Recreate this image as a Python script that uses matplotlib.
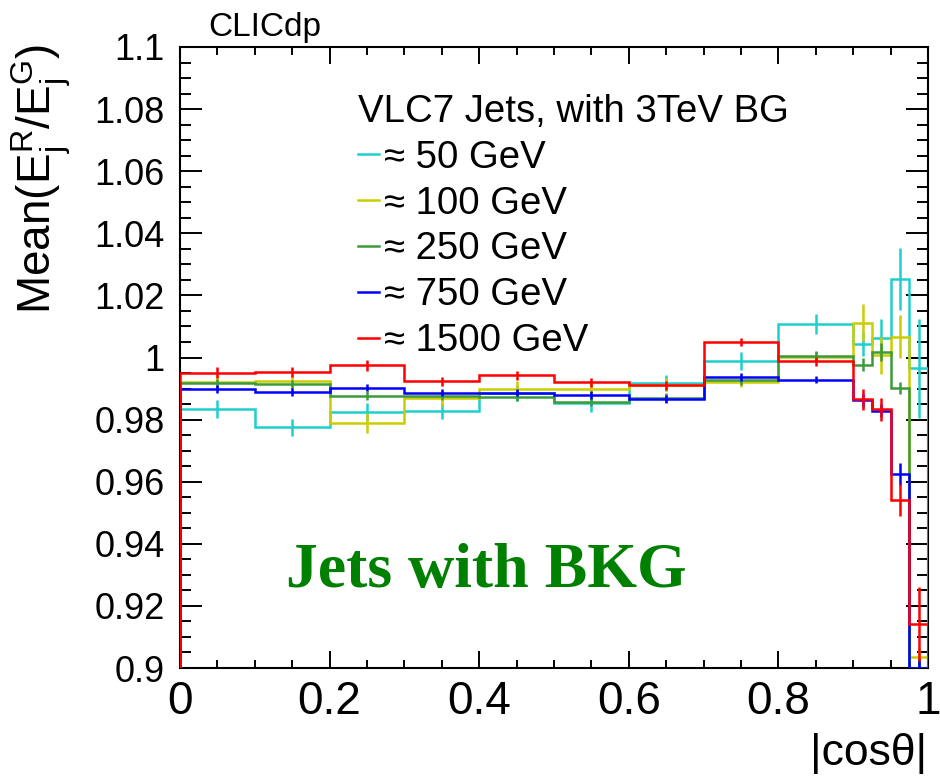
import numpy as np
import matplotlib
matplotlib.use("Agg")
import matplotlib.pyplot as plt
from matplotlib.lines import Line2D
from matplotlib.ticker import MultipleLocator, FuncFormatter

plt.rcParams['font.family'] = ['Liberation Sans', 'DejaVu Sans']
plt.rcParams['mathtext.fontset'] = 'custom'
plt.rcParams['mathtext.rm'] = 'Liberation Sans'
plt.rcParams['mathtext.it'] = 'Liberation Sans:italic'

# Data: mean reconstructed / generated jet energy vs |cos(theta)|
edges = [0.0, 0.1, 0.2, 0.3, 0.4, 0.5, 0.6, 0.7, 0.8, 0.9, 0.925, 0.95, 0.975, 1.0]

labels = ["≈ 50 GeV", "≈ 100 GeV", "≈ 250 GeV", "≈ 750 GeV", "≈ 1500 GeV"]
colors = ['#1ecfcf', '#cccc00', '#3c9a3c', '#0000ff', '#ff0000']

mean_50 = [0.9834, 0.9775, 0.9825, 0.9828, 0.9885, 0.9852, 0.9918, 0.9989, 1.0107, 1.0044, 1.0063, 1.0253, 0.9965]
mean_100 = [0.9920, 0.9924, 0.9788, 0.9868, 0.9898, 0.9898, 0.9913, 0.9921, 1.0001, 1.0112, 1.0007, 1.0067, 0.9035]
mean_250 = [0.9917, 0.9914, 0.9877, 0.9877, 0.9874, 0.9858, 0.9871, 0.9928, 1.0006, 0.9977, 1.0018, 0.9901, 0.85]
mean_750 = [0.9898, 0.9889, 0.9903, 0.9887, 0.9887, 0.9879, 0.9867, 0.9937, 0.9929, 0.9862, 0.9829, 0.9625, 0.85]
mean_1500 = [0.9951, 0.9953, 0.9975, 0.9923, 0.9943, 0.9920, 0.9910, 1.0051, 0.9988, 0.9866, 0.9833, 0.9541, 0.9142]

err_50 = [0.0030, 0.0028, 0.0028, 0.0027, 0.0025, 0.0027, 0.0027, 0.0030, 0.0032, 0.0040, 0.0060, 0.0100, 0.0160]
err_100 = [0.0020, 0.0020, 0.0032, 0.0025, 0.0025, 0.0020, 0.0020, 0.0015, 0.0016, 0.0060, 0.0060, 0.0070, 0.0030]
err_250 = [0.0015, 0.0015, 0.0015, 0.0015, 0.0015, 0.0015, 0.0015, 0.0015, 0.0015, 0.0020, 0.0030, 0.0020, 0.0030]
err_750 = [0.0012, 0.0012, 0.0012, 0.0012, 0.0012, 0.0012, 0.0012, 0.0012, 0.0011, 0.0020, 0.0020, 0.0035, 0.0030]
err_1500 = [0.0017, 0.0015, 0.0017, 0.0015, 0.0015, 0.0015, 0.0015, 0.0013, 0.0015, 0.0034, 0.0037, 0.0050, 0.0120]

means = [mean_50, mean_100, mean_250, mean_750, mean_1500]
errs = [err_50, err_100, err_250, err_750, err_1500]

ymin, ymax = 0.9, 1.1

fig = plt.figure(figsize=(9.4, 7.76), dpi=100)
ax = fig.add_axes([180 / 940, 1 - 668 / 776, 748 / 940, 621 / 776])

edges = np.array(edges)
centers = 0.5 * (edges[:-1] + edges[1:])
lw = 1.8
for vals, err, col in zip(means, errs, colors):
    vals = np.clip(np.array(vals), ymin, None)  # ROOT draws underflow at the frame
    ax.stairs(vals, edges, baseline=ymin, color=col, lw=lw, zorder=3)
    ax.errorbar(centers, vals, yerr=err, fmt='none', ecolor=col, elinewidth=lw, zorder=3)

ax.set_xlim(0, 1)
ax.set_ylim(ymin, ymax)

fmt = FuncFormatter(lambda v, p: '%g' % round(v, 3))
ax.xaxis.set_major_locator(MultipleLocator(0.2))
ax.xaxis.set_minor_locator(MultipleLocator(0.05))
ax.yaxis.set_major_locator(MultipleLocator(0.02))
ax.yaxis.set_minor_locator(MultipleLocator(0.005))
ax.xaxis.set_major_formatter(fmt)
ax.yaxis.set_major_formatter(fmt)
ax.tick_params(axis='both', which='both', direction='in', top=True, right=True, width=1.4)
ax.tick_params(axis='x', which='major', length=12, labelsize=33, pad=9)
ax.tick_params(axis='x', which='minor', length=6)
ax.tick_params(axis='y', which='major', length=16, labelsize=26, pad=11)
ax.tick_params(axis='y', which='minor', length=8)
for s in ax.spines.values():
    s.set_linewidth(1.5)

# legend
handles = [Line2D([], [], color=c, lw=lw) for c in colors]
leg = ax.legend(handles, labels, title="VLC7 Jets, with 3TeV BG", loc='upper left',
                bbox_to_anchor=(0.238, 0.925), frameon=False, fontsize=27.6,
                title_fontsize=27.6, alignment='left', handlelength=0.55,
                handletextpad=0.12, labelspacing=0.26, borderpad=0, borderaxespad=0)

ax.text(0.41, 0.13, "Jets with BKG", transform=ax.transAxes, ha='center', va='baseline',
        fontsize=46, fontweight='bold', color='#008000', family='Liberation Serif')

fig.text(208 / 940, 1 - 36 / 776, "CLICdp", fontsize=24, va='baseline', ha='left')
fig.text(927 / 940, 11 / 776, "|cosθ|", fontsize=32, va='baseline', ha='right')
fig.text(10 / 940, 1 - 44 / 776, r'Mean($\mathregular{E_{j}^{R}/E_{j}^{G}}$)', fontsize=33,
         rotation=90, va='top', ha='left')

fig.savefig("out.png", dpi=100)
